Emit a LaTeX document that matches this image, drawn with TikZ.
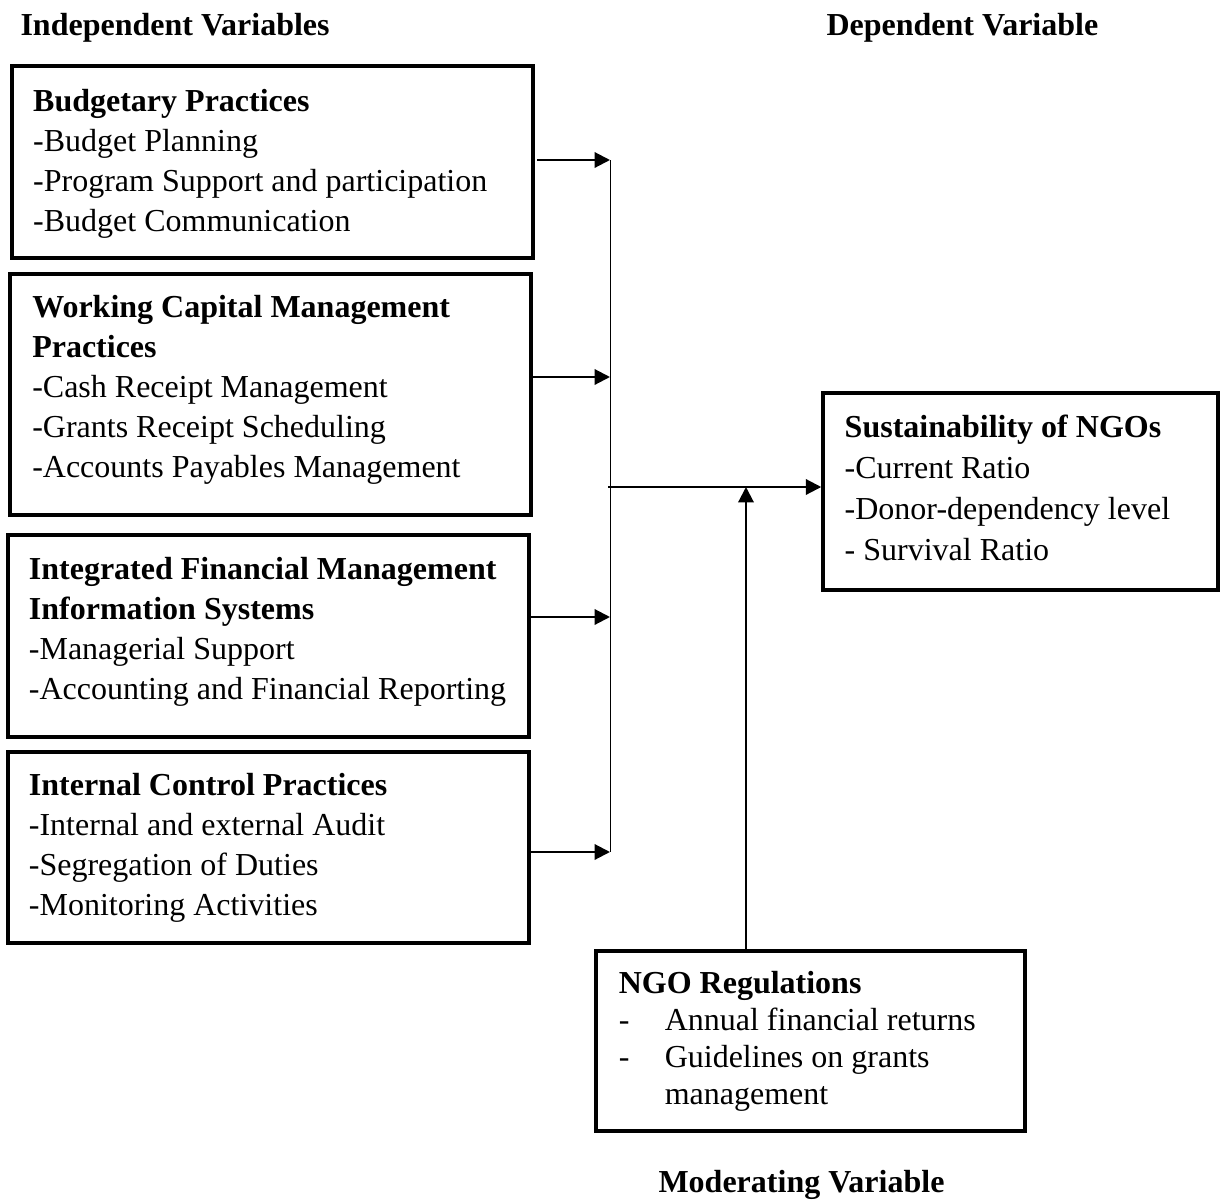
\documentclass[tikz,border=0pt]{standalone}
\usepackage{fontspec}
\setmainfont{Liberation Serif}
\usetikzlibrary{arrows.meta,fit}
\begin{document}
\begin{tikzpicture}[x=0.375pt,y=-0.375pt,
  box/.style={draw, line width=1.3pt, inner sep=0pt},
  txt/.style={anchor=west, align=left, inner sep=0pt, font=\fontsize{12}{15}\selectfont},
  head/.style={anchor=base west, inner sep=0pt, font=\fontsize{12}{15}\selectfont\bfseries},
  arr/.style={line width=0.8pt, -{Triangle[length=5.8pt,width=5.8pt]}},
  bus/.style={line width=0.35pt}]
\useasboundingbox (0,0) rectangle (1224,1200);

% headings
\node[head] (hind) at (20,35) {Independent Variables};
\node[head] (hdep) at (826,35) {Dependent Variable};
\node[head] (hmod) at (658,1192) {Moderating Variable};

% boxes
\node[box, fit={(12,66) (533,258)}] (b1) {};
\node[box, fit={(10,274) (531,515)}] (b2) {};
\node[box, fit={(8,535) (529,737)}] (b3) {};
\node[box, fit={(8,752) (529,943)}] (b4) {};
\node[box, fit={(823,393) (1218,590)}] (sus) {};
\node[box, fit={(596,951) (1025,1131)}] (ngo) {};

% texts
\node[txt] (t1) at ([xshift=8.4pt,yshift=-0.6pt]b1.west) {\textbf{Budgetary Practices}\\-Budget Planning\\-Program Support and participation\\-Budget Communication};
\node[txt] (t2) at ([xshift=8.8pt,yshift=1.7pt]b2.west) {\textbf{Working Capital Management}\\\textbf{Practices}\\-Cash Receipt Management\\-Grants Receipt Scheduling\\-Accounts Payables Management};
\node[txt] (t3) at ([xshift=8.3pt,yshift=1.4pt]b3.west) {\textbf{Integrated Financial Management}\\\textbf{Information Systems}\\-Managerial Support\\-Accounting and Financial Reporting};
\node[txt] (t4) at ([xshift=8.3pt]b4.west) {\textbf{Internal Control Practices}\\-Internal and external Audit\\-Segregation of Duties\\-Monitoring Activities};
\node[txt, font=\fontsize{12}{15.4}\selectfont] (ts) at ([xshift=8.6pt,yshift=1.4pt]sus.west) {\textbf{Sustainability of NGOs}\\-Current Ratio\\-Donor-dependency level\\- Survival Ratio};
\node[txt, font=\fontsize{12}{13.9}\selectfont] (tn) at ([xshift=9pt]ngo.west) {\textbf{NGO Regulations}\\\makebox[17.25pt][l]{-}Annual financial returns\\\makebox[17.25pt][l]{-}Guidelines on grants\\\hspace*{17.25pt}management};

% junction points
\coordinate (j1) at (610,160);
\coordinate (j2) at (610,377);
\coordinate (j3) at (610,617);
\coordinate (j4) at (610,852);
\coordinate (jm) at (608,487);
\coordinate (jv) at (746,487);

% connectors
\draw[bus] (j1) -- (j4);
\draw[arr] ([xshift=1pt]b1.east |- j1) -- (j1);
\draw[arr] (b2.east |- j2) -- (j2);
\draw[arr] (b3.east |- j3) -- (j3);
\draw[arr] (b4.east |- j4) -- (j4);
\draw[arr] (jm) -- (sus.west |- jm);
\draw[arr] (ngo.north -| jv) -- (jv);
\end{tikzpicture}
\end{document}
